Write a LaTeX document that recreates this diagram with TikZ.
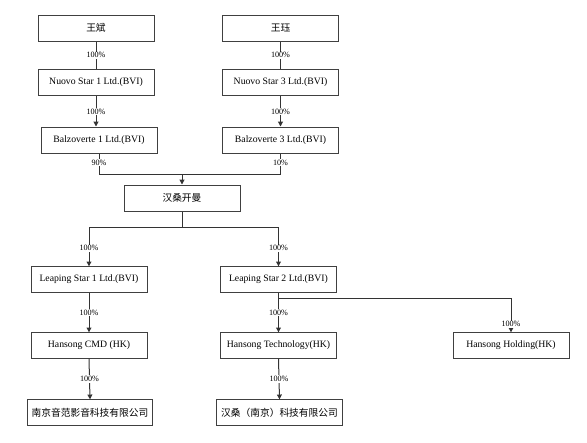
\documentclass[tikz,border=0pt]{standalone}
\usepackage{fontspec}
\setmainfont{Liberation Serif}
\newfontfamily\cjk{Noto Sans CJK SC}
\usetikzlibrary{arrows.meta}
\begin{document}
\begin{tikzpicture}[x=0.75pt,y=-0.75pt,
  box/.style={draw=black!75,line width=0.75pt,minimum height=19.5pt,inner sep=0pt,font=\fontsize{7.3}{8}\selectfont},
  conn/.style={draw=black!80,line width=0.75pt},
  arr/.style={conn,-{Triangle[length=3.6pt,width=3.6pt]}},
  pct/.style={fill=white,inner sep=0.6pt,font=\fontsize{6.1}{7}\selectfont}]
\useasboundingbox (0,0) rectangle (587,443);
% nodes
\node[box,minimum width=87pt] (wb) at (96,28) {\cjk 王斌};
\node[box,minimum width=86.5pt] (wj) at (280.5,28) {\cjk 王珏};
\node[box,minimum width=87pt,minimum height=20pt] (ns1) at (96,82.5) {Nuovo Star 1 Ltd.(BVI)};
\node[box,minimum width=86.5pt,minimum height=20pt] (ns3) at (280.5,82.5) {Nuovo Star 3 Ltd.(BVI)};
\node[box,minimum width=87pt] (bz1) at (99,140) {Balzoverte 1 Ltd.(BVI)};
\node[box,minimum width=86.5pt] (bz3) at (280.5,140) {Balzoverte 3 Ltd.(BVI)};
\node[box,minimum width=87pt] (hs) at (182,198) {\cjk 汉桑开曼};
\node[box,minimum width=87pt,minimum height=19pt] (ls1) at (89,279.5) {Leaping Star 1 Ltd.(BVI)};
\node[box,minimum width=87.5pt,minimum height=19pt] (ls2) at (278.5,279.5) {Leaping Star 2 Ltd.(BVI)};
\node[box,minimum width=87pt,minimum height=19pt] (cmd) at (89,345.5) {Hansong CMD (HK)};
\node[box,minimum width=87.5pt,minimum height=19pt] (tech) at (278.5,345.5) {Hansong Technology(HK)};
\node[box,minimum width=87pt,minimum height=19pt] (hold) at (511,345.5) {Hansong Holding(HK)};
\node[box,minimum width=94pt,minimum height=19pt] (nj1) at (90,412.5) {\cjk 南京音范影音科技有限公司};
\node[box,minimum width=94pt,minimum height=19pt] (nj2) at (279.5,412.5) {\cjk 汉桑（南京）科技有限公司};
% junctions
\coordinate (j1) at (182,174);
\coordinate (j2) at (182,227);
\coordinate (j3) at (278.5,298);
% connectors
\draw[conn] (wb.south) -- node[pct] {100\%} (ns1.north);
\draw[conn] (wj.south) -- node[pct] {100\%} (ns3.north);
\draw[arr] (ns1.south) -- node[pct] {100\%} (ns1.south |- bz1.north);
\draw[arr] (ns3.south) -- node[pct] {100\%} (bz3.north);
\draw[conn] (bz1.south) -- node[pct,pos=0.45] {90\%} (bz1.south |- j1) -- (j1);
\draw[conn] (bz3.south) -- node[pct,pos=0.45] {10\%} (bz3.south |- j1) -- (j1);
\draw[arr] (j1) -- (hs.north);
\draw[conn] (hs.south) -- (j2);
\draw[arr] (j2) -| node[pct,pos=0.77] {100\%} (ls1.north);
\draw[arr] (j2) -| node[pct,pos=0.77] {100\%} (ls2.north);
\draw[arr] (ls1.south) -- node[pct] {100\%} (cmd.north);
\draw[arr] (ls2.south) -- node[pct] {100\%} (tech.north);
\draw[arr] (j3) -| node[pct,pos=0.88] {100\%} (hold.north);
\draw[arr] (cmd.south) -- node[pct] {100\%} (nj1.north);
\draw[arr] (tech.south) -- node[pct] {100\%} (nj2.north);
\end{tikzpicture}
\end{document}
